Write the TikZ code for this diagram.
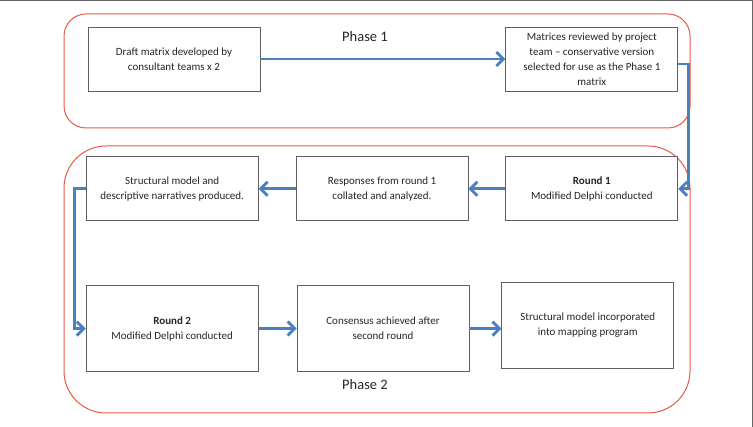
\documentclass[tikz,border=0pt]{standalone}
\usepackage{fontspec}
\setmainfont{Carlito}
\usepackage{tikz}
\usetikzlibrary{arrows.meta,positioning}
\definecolor{flowblue}{RGB}{74,128,190}
\definecolor{phasered}{RGB}{232,88,72}
\definecolor{boxgray}{RGB}{95,95,95}

\begin{document}
\begin{tikzpicture}[
      x=1pt, y=-1pt,
      node distance=37pt,
      box/.style={draw=boxgray, line width=0.8pt, fill=white,
                  minimum width=172pt, minimum height=64pt,
                  inner sep=2pt, align=center, text=black!85,
                  font=\fontsize{11}{15}\selectfont},
      tallbox/.style={box, minimum height=86pt},
      phase/.style={draw=phasered, line width=1pt},
      label/.style={font=\fontsize{14.5}{17}\selectfont, text=black!85},
      arrow/.style={-{Straight Barb[length=7pt, width=14pt]},
                    line width=2.8pt, flowblue}
    ]
    \useasboundingbox (0,0) rectangle (753,427);
    \draw[black!60, line width=1.2pt] (0,0.6) -- (752.4,0.6) -- (752.4,427);
    \draw[phase, rounded corners=22pt] (64,14) rectangle (690,128);
    \draw[phase, rounded corners=42pt] (64,146) rectangle (690,413);
    \node[label] (phaseone) at (365,37) {Phase 1};
    \node[label] (phasetwo) at (365,385) {Phase 2};
    \node[box] (draft) at (174,59) {Draft matrix developed by\\consultant teams x 2};
    \node[box, right=245pt of draft] (review) {Matrices reviewed by project\\team -- conservative version\\selected for use as the Phase 1\\matrix};
    \node[box, below=65pt of review] (round1) {\textbf{Round 1}\\Modified Delphi conducted};
    \node[box, left=of round1] (responses) {Responses from round 1\\collated and analyzed.};
    \node[box, left=of responses] (model) {Structural model and\\descriptive narratives produced.};
    \node[tallbox, below=64pt of model] (round2) {\textbf{Round 2}\\Modified Delphi conducted};
    \node[tallbox, right=38pt of round2] (consensus) {Consensus achieved after\\second round};
    \node[tallbox, right=32pt of consensus, yshift=3pt] (mapping) {Structural model incorporated\\into mapping program};
    \draw[arrow] (draft) -- (review);
    \draw[arrow] ([yshift=-5pt]review.east) -- ++(10pt,0) |- (round1.east);
    \draw[arrow] (round1) -- (responses);
    \draw[arrow] (responses) -- (model);
    \draw[arrow] (model.west) -- ++(-11pt,0) |- (round2.west);
    \draw[arrow] (round2) -- (consensus);
    \draw[arrow] (consensus.east) -- (mapping.west |- consensus.east);
  \end{tikzpicture}
\end{document}
